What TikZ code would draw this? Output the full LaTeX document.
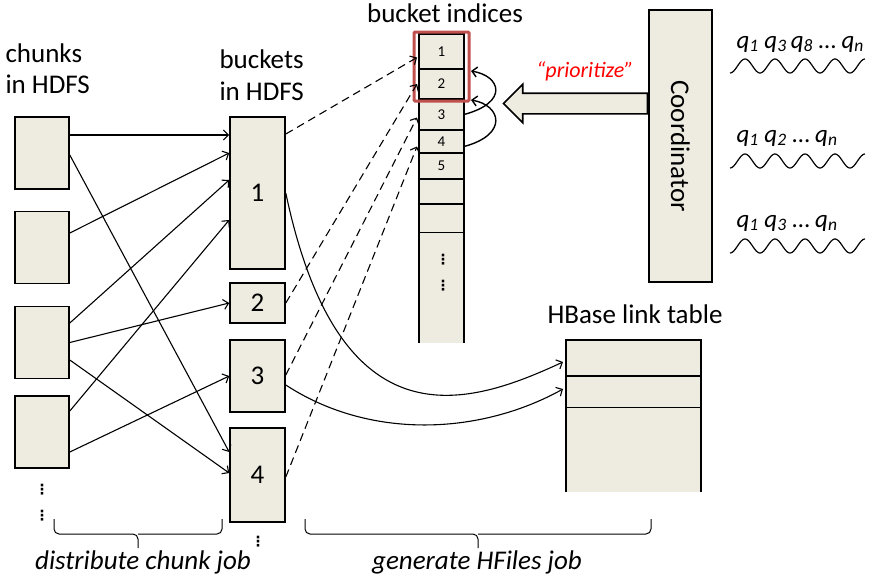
\documentclass[tikz,border=0pt]{standalone}
\usepackage{fontspec}
\setmainfont{Carlito}
\newfontfamily\dotsfont{DejaVu Sans}
\usetikzlibrary{positioning, fit, shapes.arrows, arrows.meta}

\definecolor{boxfill}{HTML}{EEECE1}
\definecolor{selred}{HTML}{C0504D}
\definecolor{prred}{HTML}{FF0000}

\newcommand{\qsub}[1]{\textit{q\textsubscript{#1}}}

\begin{document}
\begin{tikzpicture}[x=1pt, y=-1pt, >={Straight Barb[length=5pt, width=10pt]},
    font=\fontsize{27}{31}\selectfont,
    box/.style={draw, fill=boxfill, line width=1.6pt, inner sep=0pt},
    cell/.style={box, minimum width=45pt, outer sep=0pt, font=\fontsize{15}{17}\selectfont},
    tabrow/.style={box, minimum width=135pt, outer sep=0pt},
    dots/.style={font=\dotsfont\bfseries\fontsize{14}{26}\selectfont, inner sep=0pt, align=center},
    wave/.style={line width=1.2pt, domain=0:4.5, samples=120, smooth}]
    \useasboundingbox (0,0) rectangle (870,579);

    % chunks and buckets
    \begin{scope}[every node/.style={box, minimum width=54pt, minimum height=72pt}]
        \node (c1) at (42,153) {};
        \node (c2) at (42,247.5) {};
        \node (c3) at (42,342.5) {};
        \node (c4) at (42,432) {};
    \end{scope}

    \begin{scope}[every node/.style={box, minimum width=55pt}]
        \node (b1) [minimum height=152pt] at (257.5,193) {1};
        \node (b2) [minimum height=40pt]  at (257.5,303) {2};
        \node (b3) [minimum height=72pt]  at (257.5,376) {3};
        \node (b4) [minimum height=94pt]  at (257.5,475) {4};
    \end{scope}

    \node [anchor=base west, align=left] at (2,93) {chunks\\in HDFS};
    \node [anchor=base west, align=left, font=\fontsize{27}{32}\selectfont] at (216,100) {buckets\\in HDFS};
    \node [dots] at (42,503) {⋮\\⋮};
    \node [dots] at (258,542) {⋮};

    % bucket index column
    \node (i1) [cell, minimum height=35pt] at (441.5,51.5) {1};
    \node (i2) [cell, minimum height=30pt, below=0pt of i1] {2};
    \node (i3) [cell, minimum height=31pt, below=0pt of i2] {3};
    \node (i4) [cell, minimum height=23pt, below=0pt of i3] {4};
    \node (i5) [cell, minimum height=26pt, below=0pt of i4] {5};
    \node (i6) [cell, minimum height=25pt, below=0pt of i5] {};
    \node (i7) [cell, minimum height=29pt, below=0pt of i6] {};
    \fill [boxfill] (i7.south west) rectangle ++(45,110);
    \draw [line width=1.6pt] (i7.south west) -- ++(0,110) (i7.south east) -- ++(0,110);
    \node [dots] at (443,273) {⋮\\⋮};
    \node [anchor=base] at (445,22) {bucket indices};
    \node (sel) [draw=selred, line width=3pt, rounded corners=1pt, fit=(i1)(i2),
        inner xsep=5pt, inner ysep=2pt] {};

    % HBase link table
    \node (h1) [tabrow, minimum height=36pt] at (633.5,358) {};
    \node (h2) [tabrow, minimum height=32pt, below=0pt of h1] {};
    \fill [boxfill] (h2.south west) rectangle ++(135,84);
    \draw [line width=1.6pt] (h2.south west) -- ++(0,84) (h2.south east) -- ++(0,84);
    \node [anchor=base] at (635,323) {HBase link table};

    % coordinator and queries
    \node (coord) [box, minimum width=63pt, minimum height=272pt] at (680.5,146)
        {\rotatebox{-90}{Coordinator}};
    \node (prio) [single arrow, shape border rotate=180, draw, fill=boxfill, line width=1.6pt,
        inner sep=9.5pt, single arrow head extend=9pt, minimum height=144pt,
        anchor=tail] at ([yshift=42.5pt]coord.west) {};
    \node [anchor=base, text=prred, font=\fontsize{22}{26}\selectfont\itshape]
        at (585,77) {``prioritize''};

    \begin{scope}[every node/.style={anchor=base west, font=\fontsize{25}{30}\selectfont}]
        \node (q1) at (733,48)  {\qsub{1} \qsub{3}\,\qsub{8} \ldots\ \qsub{n}};
        \node (q2) at (733,142) {\qsub{1} \qsub{2} \ldots\ \qsub{n}};
        \node (q3) at (733,227) {\qsub{1} \qsub{3} \ldots\ \qsub{n}};
    \end{scope}
    \draw [wave] plot ({730+30*\x},{66+7*cos(360*\x)});
    \draw [wave] plot ({730+30*\x},{161+7*cos(360*\x)});
    \draw [wave] plot ({730+30*\x},{246+7*cos(360*\x)});

    % distribute chunk job
    \begin{scope}[every edge/.style={draw=black, line width=1.1pt, ->}]
        \path ([yshift=18pt]c1.east)   edge ([yshift=58pt]b1.west);
        \path ([yshift=-2pt]c1.east)   edge ([yshift=23pt]b4.west);
        \path ([yshift=14.5pt]c2.east) edge ([yshift=40pt]b1.west);
        \path ([yshift=19.5pt]c3.east) edge ([yshift=13pt]b1.west);
        \path (c3.east)                edge (b2.west);
        \path ([yshift=-17.5pt]c3.east) edge ([yshift=2pt]b4.west);
        \path ([yshift=21pt]c4.east)   edge ([yshift=-27pt]b1.west);
        \path ([yshift=-20pt]c4.east)  edge (b3.west);
    \end{scope}

    % buckets into index
    \begin{scope}[every edge/.style={draw=black, line width=1.1pt, dash pattern=on 8pt off 5pt, ->}]
        \path ([yshift=59pt]b1.east)  edge ([shift={(-2pt,-6pt)}]i1.west);
        \path (b2.east)               edge ([xshift=-2pt]i2.west);
        \path ([yshift=1pt]b3.east)   edge ([shift={(-2pt,-3pt)}]i3.west);
        \path ([yshift=-2pt]b4.east)  edge ([shift={(-2pt,-5pt)}]i4.west);
    \end{scope}

    % reordering inside the index
    \begin{scope}[line width=1.4pt, ->]
        \draw (i3.east) .. controls +(45,-12) and +(30,5) .. ([shift={(7pt,-2pt)}]i2.north east);
        \draw ([yshift=-5pt]i4.east) .. controls +(45,-12) and +(30,5) .. ([shift={(7pt,-1pt)}]i3.north east);
    \end{scope}

    % generate HFiles job
    \begin{scope}[line width=1.1pt, ->]
        \draw (b1.east) .. controls (340,450) and (470,405) .. ([xshift=-3pt,yshift=-4pt]h1.west);
        \draw ([yshift=-9pt]b3.east) .. controls (370,440) and (480,435) .. ([xshift=-3pt,yshift=3pt]h2.west);
    \end{scope}

    % job braces
    \begin{scope}[line width=1pt, rounded corners=5pt]
        \draw (54,519) |- (138,534) -- (138,548);
        \draw (222,519) |- (138,534);
        \draw (305,519) |- (478,534) -- (478,548);
        \draw (651,519) |- (478,534);
    \end{scope}
    \node [anchor=base, font=\fontsize{27}{31}\selectfont\itshape] at (143,569) {distribute chunk job};
    \node [anchor=base, font=\fontsize{27}{31}\selectfont\itshape] at (477,569) {generate HFiles job};
\end{tikzpicture}
\end{document}
